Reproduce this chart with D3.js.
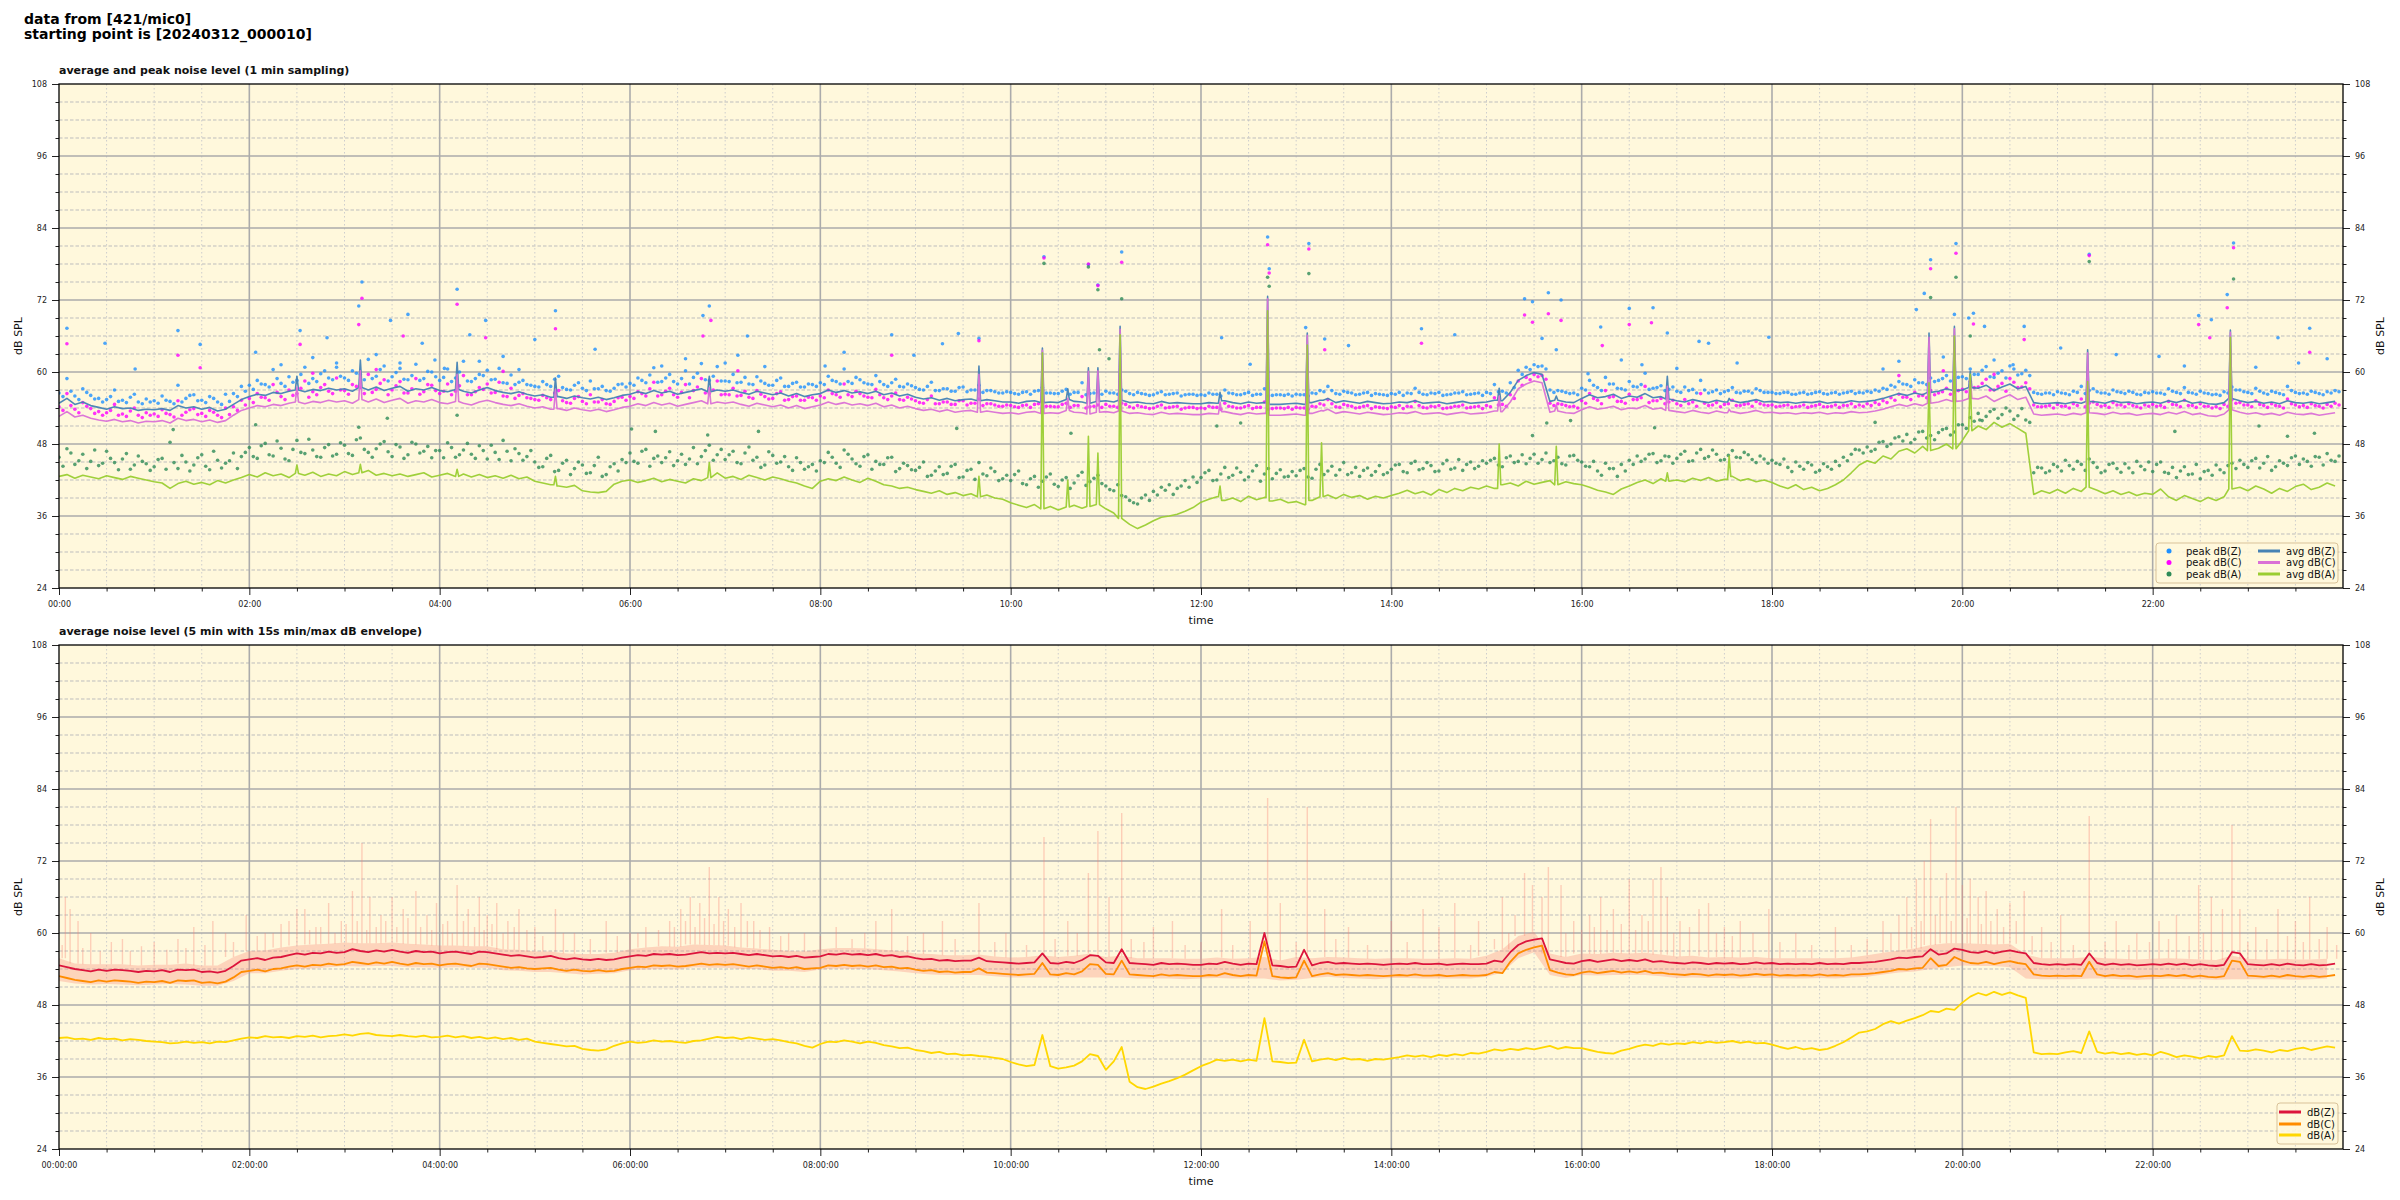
<!DOCTYPE html>
<html><head><meta charset="utf-8">
<script src="https://cdn.jsdelivr.net/npm/d3@7"></script>
<style>
body{margin:0;background:#fff}
svg{display:block}
text{font-family:"DejaVu Sans",sans-serif}
</style>
</head><body>
<svg id="c" width="2400" height="1200"></svg>
<script>
// ---------------- DATA ----------------
const tickMinutes = [0,120,240,360,480,600,720,840,960,1080,1200,1320];
const tickLabelsShort = ["00:00","02:00","04:00","06:00","08:00","10:00","12:00","14:00","16:00","18:00","20:00","22:00"];
const tickLabelsLong = ["00:00:00","02:00:00","04:00:00","06:00:00","08:00:00","10:00:00","12:00:00","14:00:00","16:00:00","18:00:00","20:00:00","22:00:00"];
const dbTicks = [24,36,48,60,72,84,96,108];

// top panel: 1-min data shown at 5-min steps (minute = index*5)
const avgZ = [
54.8,55.6,54.6,55.0,54.4,54.1,53.8,54.2,53.9,54.0,53.6,53.8,
53.7,53.9,53.6,54.4,54.0,54.2,53.8,54.1,53.5,53.8,54.6,55.4,
55.9,56.3,56.1,56.6,56.4,56.8,57.0,56.7,57.1,56.9,57.3,57.0,
57.2,56.8,57.4,57.0,57.5,56.9,57.3,57.6,56.8,57.2,57.0,57.4,
56.9,56.7,57.1,56.8,56.5,57.0,57.4,56.9,56.6,56.4,56.7,56.3,
56.0,56.2,55.8,55.9,55.6,56.0,55.7,55.5,55.8,55.4,55.7,56.1,
56.3,56.7,56.4,56.9,56.5,56.8,56.3,56.6,56.9,57.2,56.7,57.0,
56.8,57.0,56.6,56.3,56.8,56.5,56.2,56.5,56.0,56.4,55.9,56.2,
56.4,57.0,56.6,56.9,56.5,56.7,56.4,56.8,56.2,56.5,56.0,56.3,
55.8,55.5,55.7,55.3,55.6,55.2,55.4,55.5,55.2,55.4,55.2,55.0,
55.0,54.8,55.1,55.2,54.9,55.0,54.9,55.4,55.1,55.0,54.8,55.1,
55.2,55.0,55.3,54.9,55.0,54.8,54.7,55.1,54.8,54.9,54.8,54.7,
54.7,54.9,54.8,55.2,54.9,54.7,55.0,54.8,54.9,54.6,54.6,54.7,
54.8,54.6,54.9,55.3,55.6,54.9,55.2,55.0,54.8,55.1,54.9,54.7,
54.8,55.0,54.9,55.2,54.8,54.9,55.0,54.7,54.9,55.1,54.8,54.9,
55.0,55.3,55.2,56.6,58.6,59.4,59.9,59.6,55.1,55.3,55.0,54.9,
55.6,56.2,55.7,55.9,56.3,55.6,56.0,55.8,56.4,55.7,55.9,55.5,
55.2,55.0,55.4,55.1,54.9,55.3,55.0,55.2,54.9,55.1,55.4,55.0,
55.1,54.9,55.0,54.8,55.0,54.9,55.1,54.8,55.0,54.9,55.2,55.0,
55.1,55.3,55.6,56.0,56.4,56.1,56.5,56.2,56.6,56.8,57.2,56.9,
57.0,57.4,57.3,57.8,56.9,57.5,58.0,57.2,57.6,54.9,54.7,54.8,
54.9,54.7,55.0,54.8,55.1,55.0,54.8,55.2,54.9,55.0,54.7,54.9,
55.0,54.8,55.2,54.9,55.3,54.8,55.0,54.7,54.6,54.9,55.6,55.2,
54.9,55.1,54.8,55.0,54.7,55.2,54.9,54.8,55.0,54.7,54.9,55.1];
const avgC = [
52.6,53.4,52.5,52.8,52.3,52.0,51.8,52.1,51.7,51.9,51.5,51.8,
51.7,51.9,51.5,52.3,51.9,52.1,51.7,52.0,51.6,51.9,52.8,53.6,
54.0,54.4,54.2,54.6,54.4,54.8,55.0,54.7,55.1,54.9,55.3,55.0,
55.2,54.8,55.4,55.0,55.5,54.9,55.3,55.6,54.8,55.2,55.0,55.4,
54.9,54.7,55.1,54.8,54.5,55.0,55.3,54.9,54.6,54.4,54.7,54.3,
54.0,54.2,53.8,53.9,53.6,54.0,53.7,53.5,53.8,53.4,53.7,54.1,
54.3,54.7,54.4,54.9,54.5,54.8,54.3,54.6,54.9,55.2,54.7,55.0,
54.8,55.0,54.6,54.3,54.8,54.5,54.2,54.5,54.0,54.4,53.9,54.2,
54.5,55.0,54.6,54.9,54.5,54.7,54.4,54.8,54.2,54.5,54.0,54.3,
53.9,53.6,53.8,53.4,53.7,53.3,53.5,53.6,53.3,53.5,53.3,53.1,
53.2,53.0,53.3,53.4,53.1,53.2,53.1,53.6,53.3,53.2,53.0,53.3,
53.4,53.2,53.5,53.1,53.2,53.0,52.9,53.3,53.0,53.1,53.0,52.9,
52.9,53.1,53.0,53.4,53.1,52.9,53.2,53.0,53.1,52.8,52.8,52.9,
53.0,52.8,53.1,53.5,53.8,53.1,53.4,53.2,53.0,53.3,53.1,52.9,
53.0,53.2,53.1,53.4,53.0,53.1,53.2,52.9,53.1,53.3,53.0,53.1,
53.2,53.5,53.4,55.0,57.2,58.0,58.5,58.2,53.3,53.5,53.2,53.1,
53.7,54.2,53.8,54.0,54.3,53.7,54.0,53.9,54.4,53.8,54.0,53.6,
53.4,53.2,53.6,53.3,53.1,53.5,53.2,53.4,53.1,53.3,53.6,53.2,
53.3,53.1,53.2,53.0,53.2,53.1,53.3,53.0,53.2,53.1,53.4,53.2,
53.3,53.5,53.8,54.2,54.6,54.3,54.7,54.4,54.8,55.0,55.4,55.1,
55.2,55.6,55.5,56.0,55.1,55.7,56.2,55.4,55.8,53.0,52.8,52.9,
53.0,52.8,53.1,52.9,53.2,53.1,52.9,53.3,53.0,53.1,52.8,53.0,
53.1,52.9,53.3,53.0,53.4,52.9,53.1,52.7,52.6,53.0,53.7,53.3,
53.0,53.2,52.9,53.1,52.8,53.3,53.0,52.9,53.1,52.8,53.0,53.2];
const avgA = [
42.6,42.9,42.3,42.8,42.5,42.2,42.7,42.4,42.1,42.6,42.3,42.0,
41.7,41.5,40.6,41.4,41.8,41.3,41.6,41.2,41.9,41.5,42.0,42.4,
42.9,42.5,43.2,42.7,43.0,42.4,43.1,42.8,43.3,42.6,43.0,42.7,
43.4,42.9,43.2,43.6,42.8,43.1,42.7,43.0,42.6,42.9,43.2,42.5,
42.8,43.1,42.6,43.0,42.5,42.9,42.4,42.7,42.3,42.8,42.2,42.5,
41.8,41.5,41.2,41.0,40.8,41.1,40.2,40.0,39.9,40.1,41.3,41.8,
42.0,41.6,41.9,42.3,41.7,42.1,41.8,41.5,42.2,41.9,42.4,43.2,
42.3,42.6,42.1,42.8,42.4,42.0,42.5,42.2,41.8,41.5,41.0,40.6,
41.8,42.2,41.9,42.5,42.0,41.6,42.3,41.8,41.2,41.0,40.6,40.8,
40.4,40.1,39.8,40.2,39.6,39.9,39.4,39.7,39.2,39.5,39.0,38.8,
38.2,37.8,37.4,37.9,37.2,37.6,37.0,37.5,37.8,37.3,37.6,37.9,
37.2,36.5,35.6,34.6,33.9,34.5,35.2,35.8,36.0,36.3,36.8,37.4,
38.3,38.8,39.2,38.6,39.0,38.4,39.3,38.7,39.1,38.5,38.8,38.2,
38.4,37.9,38.6,39.2,39.5,38.9,39.6,39.1,39.4,38.8,39.3,39.0,
39.4,39.8,40.3,39.7,40.1,39.5,40.4,39.9,40.6,40.2,40.8,40.5,
41.0,40.6,41.2,41.5,41.0,41.8,41.3,41.6,41.9,41.2,41.7,41.4,
41.2,40.8,40.3,40.0,39.6,40.5,41.0,41.6,42.0,41.4,42.2,41.8,
42.0,41.7,42.3,41.9,42.4,41.8,42.1,42.6,41.9,42.2,41.7,42.0,
41.6,41.0,40.6,41.2,40.4,40.8,40.2,40.6,41.2,42.0,43.2,44.5,
45.2,44.8,46.0,45.5,46.8,47.2,46.5,47.6,46.9,47.3,48.0,47.2,
48.6,50.2,51.0,50.4,51.6,50.8,51.4,50.6,49.8,39.6,40.2,39.8,
40.4,39.8,40.6,40.1,40.8,40.3,39.7,40.2,39.6,40.0,39.4,39.8,
39.6,40.5,39.2,38.6,39.4,38.9,38.4,39.1,38.6,39.2,40.5,40.8,
40.2,41.0,40.5,39.8,40.6,40.1,40.9,41.3,40.4,40.8,41.5,41.0];

// short 1-minute events in the averages (minute, Z, C, A)
const spikeT = [150,190,251,313,410,580,620,636,649,655,669,732,762,787,796,908,944,1014,1053,1179,1195,1205,1279,1369];
const spikeZ = [59.3,62.0,61.6,59.0,59.3,61.0,64.0,57.2,60.7,60.7,67.6,56.6,72.6,66.5,55.3,57.3,56.0,59.3,55.6,66.5,67.6,60.1,63.7,67.0];
const spikeC = [57.5,60.2,59.6,57.1,57.4,59.6,63.6,55.6,60.1,60.2,67.1,55.0,72.2,66.1,53.6,56.0,54.5,57.6,53.8,65.8,67.2,59.2,63.2,66.6];
const spikeA = [44.5,44.6,43.8,42.6,44.9,42.6,63.2,42.0,49.3,46.5,66.2,41.0,70.2,64.5,48.2,48.0,47.6,43.2,46.0,58.2,66.0,59.6,58.4,65.8];

// peak levels, first reading of each 5-min step (minute = index*5)
const peakZ = [
56.5,58.9,56.0,57.2,56.1,55.6,55.4,57.0,55.3,55.8,55.0,55.5,
55.2,56.0,55.1,57.8,55.6,56.2,55.3,55.9,55.0,56.3,56.4,57.6,
57.8,58.6,57.9,60.4,58.1,59.2,58.6,60.8,58.9,59.7,59.0,61.5,
59.0,60.2,59.6,62.1,59.3,61.0,59.2,60.6,58.7,61.3,58.9,60.0,
58.6,60.5,59.0,61.8,58.4,59.6,60.3,58.8,58.2,59.5,58.3,57.9,
57.6,58.4,57.6,59.3,57.1,57.8,57.3,58.5,57.2,56.9,57.3,58.0,
58.1,59.0,58.2,60.7,58.4,59.6,58.0,60.2,59.1,61.4,58.6,60.9,
58.5,59.6,58.3,58.0,59.2,58.1,57.8,59.0,57.6,58.3,57.5,57.9,
58.2,59.3,58.4,60.5,58.1,58.7,58.0,59.4,57.9,58.2,57.6,58.0,
57.4,57.0,58.3,56.9,57.2,56.8,57.5,57.0,57.8,56.9,56.7,56.5,
56.6,56.3,56.7,56.8,57.4,56.5,56.4,57.1,56.6,58.2,56.4,56.7,
56.8,56.5,57.0,56.4,56.6,56.3,56.2,56.7,56.3,56.5,56.2,56.3,
56.2,56.5,56.3,57.0,56.4,56.2,56.6,56.3,57.2,56.1,56.2,56.3,
56.3,56.2,56.5,56.9,57.6,56.4,56.8,56.5,56.3,56.6,56.4,56.2,
56.4,56.6,56.5,57.3,56.3,56.5,56.6,56.2,56.5,56.7,56.3,56.5,
56.6,57.9,56.8,58.2,60.3,60.8,61.2,61.0,57.0,56.9,56.6,56.5,
57.3,58.6,57.4,59.1,58.0,57.2,58.4,57.5,59.8,57.3,57.7,57.1,
56.8,57.5,57.1,58.6,56.5,57.0,56.7,57.4,56.5,56.8,57.2,56.6,
56.6,56.4,56.6,56.3,56.6,56.4,56.7,56.3,56.6,56.5,56.8,56.6,
56.8,57.0,57.3,57.8,58.4,57.9,58.7,58.2,59.0,58.6,59.4,58.8,
59.2,60.5,59.6,60.9,59.1,60.2,61.0,59.5,60.3,56.6,56.3,56.5,
56.7,56.4,56.8,57.6,56.9,56.7,56.5,57.0,56.6,56.8,56.3,56.6,
56.7,56.5,57.2,56.6,57.4,56.5,56.8,56.4,56.3,56.7,57.5,57.0,
56.6,57.3,56.5,56.8,56.4,57.6,56.6,56.5,56.8,56.4,56.7,56.9];
const peakC = [
54.2,56.4,53.8,54.9,53.9,53.4,53.2,54.6,53.0,53.5,52.8,53.2,
53.0,53.7,52.9,55.2,53.3,53.9,53.1,53.6,52.8,54.0,54.2,55.3,
55.6,56.4,55.7,57.9,55.9,57.0,56.4,58.5,56.7,57.4,56.8,59.0,
56.9,57.9,57.4,59.6,57.1,58.7,57.0,58.4,56.5,58.9,56.7,57.8,
56.4,58.0,56.8,59.4,56.2,57.4,58.0,56.6,56.0,57.3,56.1,55.7,
55.4,56.1,55.4,56.9,54.9,55.6,55.1,56.2,55.0,54.7,55.1,55.8,
55.9,56.7,56.0,58.3,56.2,57.3,55.8,57.9,56.9,58.9,56.4,58.5,
56.3,57.3,56.1,55.8,56.9,55.9,55.6,56.7,55.4,56.0,55.3,55.7,
56.0,57.0,56.2,58.0,55.9,56.4,55.8,57.1,55.7,56.0,55.4,55.8,
55.2,54.8,56.0,54.7,55.0,54.6,55.2,54.8,55.5,54.7,54.5,54.3,
54.4,54.1,54.5,54.6,55.1,54.3,54.2,54.8,54.4,55.9,54.2,54.5,
54.6,54.3,54.8,54.2,54.4,54.1,54.0,54.5,54.1,54.3,54.0,54.1,
54.0,54.3,54.1,54.8,54.2,54.0,54.4,54.1,55.0,53.9,54.0,54.1,
54.1,54.0,54.3,54.7,55.4,54.2,54.6,54.3,54.1,54.4,54.2,54.0,
54.2,54.4,54.3,55.1,54.1,54.3,54.4,54.0,54.3,54.5,54.1,54.3,
54.4,55.7,54.6,56.2,58.5,59.1,59.6,59.4,54.8,54.7,54.4,54.3,
55.2,56.4,55.3,56.9,55.9,55.1,56.3,55.4,57.6,55.2,55.6,55.0,
54.7,55.4,55.0,56.4,54.4,54.9,54.6,55.3,54.4,54.7,55.1,54.5,
54.5,54.3,54.5,54.2,54.5,54.3,54.6,54.2,54.5,54.4,54.7,54.5,
54.7,54.9,55.2,55.7,56.3,55.8,56.6,56.1,56.9,56.5,57.3,56.7,
57.1,58.4,57.5,58.8,57.0,58.1,58.9,57.4,58.2,54.5,54.2,54.4,
54.6,54.3,54.7,55.5,54.8,54.6,54.4,54.9,54.5,54.7,54.2,54.5,
54.6,54.4,55.1,54.5,55.3,54.4,54.7,54.3,54.2,54.6,55.4,54.9,
54.5,55.2,54.4,54.7,54.3,55.5,54.5,54.4,54.7,54.3,54.6,54.8];
const peakA = [
45.8,47.2,44.6,46.3,45.1,44.4,46.8,44.9,45.5,43.8,46.0,44.7,
44.2,45.6,48.3,43.9,45.0,44.5,46.2,43.7,45.3,44.8,46.5,45.9,
47.4,45.6,48.1,46.0,47.3,45.2,48.6,46.4,47.0,45.8,47.9,46.3,
47.8,46.1,49.0,46.6,47.2,48.4,45.9,47.5,46.2,48.0,46.8,45.7,
46.9,48.2,45.8,47.0,46.3,47.7,45.5,46.6,48.6,45.2,46.4,45.9,
45.0,44.2,46.1,43.6,45.3,43.9,44.5,43.2,45.8,42.9,44.7,45.4,
46.5,44.8,47.1,45.6,44.9,46.7,45.2,44.6,47.4,45.9,47.8,46.2,
45.4,46.8,44.7,47.5,45.8,44.5,46.1,45.0,44.2,45.7,43.8,44.6,
45.2,46.6,44.8,47.0,45.5,44.3,46.2,45.1,44.6,45.8,43.9,44.4,
43.6,45.0,42.8,44.2,43.1,44.6,42.5,43.8,44.9,42.7,43.4,42.2,
41.9,43.5,41.2,42.6,41.8,43.0,40.9,42.4,41.5,43.3,41.7,42.8,
41.0,40.2,39.4,38.6,38.0,39.5,40.1,40.8,41.2,40.6,41.9,42.5,
42.4,43.6,42.0,44.1,42.8,43.3,42.5,44.4,43.0,42.2,43.7,42.6,
42.7,43.9,42.3,44.6,43.5,42.8,44.9,43.2,42.6,44.0,43.4,42.9,
43.8,44.6,43.2,45.1,43.9,44.4,43.5,45.3,44.0,43.6,45.0,44.3,
44.8,45.6,44.2,46.0,45.1,44.7,46.3,45.4,44.9,45.8,44.5,46.1,
45.0,44.2,43.5,44.8,43.9,44.6,45.3,46.0,45.5,46.4,45.2,45.9,
45.6,46.8,45.2,47.1,45.9,46.3,45.4,46.9,45.7,46.2,44.9,45.5,
45.3,44.6,44.1,45.0,43.8,44.5,43.6,44.2,45.1,45.8,46.3,47.0,
47.5,47.1,48.4,48.0,49.2,49.6,48.8,50.1,49.4,49.9,50.6,50.0,
51.2,52.4,53.1,52.6,53.8,52.9,53.5,52.7,52.0,43.2,44.0,43.5,
44.2,45.3,43.8,44.6,45.5,44.1,43.5,44.8,43.3,44.0,45.1,43.7,
43.4,45.0,43.1,42.4,44.2,43.0,42.2,43.6,44.5,43.2,44.8,45.3,
44.1,45.6,44.8,43.6,45.2,44.4,46.0,45.5,44.3,45.8,46.4,45.1];
// peak levels, second reading of each 5-min step (minute = index*5 + 2.5)
const peakZ2 = [
55.9,56.8,55.4,56.6,55.5,55.0,55.9,55.1,54.9,56.3,54.7,55.0,
54.8,55.3,54.7,55.0,56.1,55.2,54.9,55.6,54.6,55.1,55.9,56.8,
57.1,58.0,57.5,58.9,57.6,58.3,59.6,58.1,58.4,60.2,58.7,59.3,
58.6,59.8,58.7,58.9,60.4,58.5,59.9,58.8,59.4,58.6,60.1,59.2,
59.1,58.4,60.0,58.5,58.9,59.4,58.7,60.6,58.1,57.9,58.6,57.8,
57.5,57.9,58.8,57.4,57.0,58.2,56.9,57.2,57.6,56.8,57.9,57.5,
57.8,58.6,59.5,58.3,59.0,58.4,58.9,58.0,59.8,58.7,59.3,58.5,
58.4,58.2,59.1,57.9,58.5,57.8,58.6,57.6,58.1,57.5,58.0,57.6,
57.9,58.6,58.0,58.4,59.1,58.2,57.9,58.4,57.6,58.8,57.5,57.7,
57.1,57.6,56.9,57.2,56.8,57.4,56.7,57.0,56.6,56.9,56.5,56.7,
56.4,56.6,56.3,56.9,56.5,56.4,56.8,56.3,56.6,56.2,56.5,56.3,
56.5,56.3,56.8,56.2,56.4,56.1,56.5,56.2,56.4,56.0,56.3,56.1,
56.1,56.3,56.0,56.5,56.2,56.4,56.1,56.3,56.0,56.2,56.1,56.0,
56.2,56.0,56.4,56.7,56.9,56.3,56.6,56.2,56.5,56.1,56.3,56.1,
56.3,56.1,56.4,56.6,56.2,56.4,56.1,56.3,56.5,56.2,56.4,56.1,
56.4,56.7,56.5,57.4,59.6,60.4,60.9,60.5,56.6,56.8,56.4,56.2,
57.0,57.8,56.9,58.0,57.3,57.0,57.6,57.9,57.1,57.4,56.9,57.5,
56.6,56.9,56.5,57.0,56.7,56.4,56.9,56.6,56.8,56.5,56.9,56.6,
56.4,56.6,56.3,56.5,56.3,56.6,56.4,56.5,56.3,56.6,56.4,56.5,
56.6,56.8,57.1,57.5,58.0,57.6,58.2,57.9,58.4,58.9,58.5,59.1,
58.9,59.6,60.3,59.2,59.8,59.0,60.5,59.7,59.4,56.4,56.5,56.2,
56.5,56.2,56.6,56.4,57.2,56.5,56.3,56.7,56.4,56.6,56.2,56.5,
56.5,56.3,56.8,56.4,56.6,56.3,56.5,56.2,56.1,56.5,57.0,56.7,
56.4,56.8,56.3,56.6,56.2,56.9,56.4,56.3,56.6,56.2,56.5,56.7];
const peakC2 = [
53.6,54.4,53.2,54.3,53.1,52.8,53.6,52.8,52.6,54.0,52.4,52.8,
52.6,53.1,52.5,52.8,53.7,52.9,52.6,53.3,52.4,52.9,53.6,54.5,
54.9,55.8,55.3,56.6,55.4,56.1,57.3,55.8,56.2,57.9,56.4,57.0,
56.3,57.6,56.4,56.6,58.1,56.2,57.7,56.5,57.2,56.3,57.9,56.9,
56.8,56.2,57.7,56.2,56.7,57.1,56.5,58.3,55.9,55.6,56.4,55.6,
55.3,55.7,56.5,55.2,54.8,55.9,54.7,55.0,55.4,54.6,55.7,55.3,
55.6,56.4,57.2,56.0,56.8,56.2,56.6,55.7,57.5,56.5,57.0,56.2,
56.2,56.0,56.8,55.6,56.3,55.5,56.4,55.3,55.9,55.3,55.8,55.3,
55.7,56.4,55.8,56.2,56.8,56.0,55.7,56.2,55.4,56.5,55.3,55.5,
54.9,55.4,54.7,55.0,54.6,55.2,54.5,54.8,54.4,54.7,54.3,54.5,
54.2,54.4,54.1,54.7,54.3,54.2,54.6,54.1,54.4,54.0,54.3,54.1,
54.3,54.1,54.6,54.0,54.2,53.9,54.3,54.0,54.2,53.8,54.1,53.9,
53.9,54.1,53.8,54.3,54.0,54.2,53.9,54.1,53.8,54.0,53.9,53.8,
54.0,53.8,54.2,54.5,54.7,54.1,54.4,54.0,54.3,53.9,54.1,53.9,
54.1,53.9,54.2,54.4,54.0,54.2,53.9,54.1,54.3,54.0,54.2,53.9,
54.2,54.5,54.3,55.6,57.8,58.7,59.2,58.8,54.4,54.6,54.2,54.0,
54.8,55.6,54.7,55.8,55.1,54.8,55.4,55.7,54.9,55.2,54.7,55.3,
54.4,54.7,54.3,54.8,54.5,54.2,54.7,54.4,54.6,54.3,54.7,54.4,
54.2,54.4,54.1,54.3,54.1,54.4,54.2,54.3,54.1,54.4,54.2,54.3,
54.4,54.6,54.9,55.3,55.8,55.4,56.0,55.7,56.2,56.7,56.3,56.9,
56.7,57.4,58.1,57.0,57.6,56.8,58.3,57.5,57.2,54.2,54.3,54.0,
54.3,54.0,54.4,54.2,55.0,54.3,54.1,54.5,54.2,54.4,54.0,54.3,
54.3,54.1,54.6,54.2,54.4,54.1,54.3,54.0,53.9,54.3,54.8,54.5,
54.2,54.6,54.1,54.4,54.0,54.7,54.2,54.1,54.4,54.0,54.3,54.5];
const peakA2 = [
44.3,46.5,45.2,43.9,47.0,44.8,45.6,43.7,46.4,44.5,45.1,43.6,
45.4,43.8,44.9,46.1,43.5,45.7,44.3,46.8,44.0,45.2,43.9,46.6,
45.9,47.7,46.2,48.5,45.5,47.1,46.6,48.8,45.9,47.4,46.0,48.2,
46.4,48.7,47.1,45.8,48.0,46.7,47.9,45.6,48.3,46.5,47.6,46.9,
45.7,47.4,46.2,48.1,45.6,46.9,47.8,45.4,46.8,47.2,45.3,46.9,
44.1,45.6,43.4,44.8,42.9,45.0,43.1,44.4,42.6,44.2,43.5,44.9,
45.1,46.8,44.3,46.0,45.7,44.4,46.3,45.5,44.7,46.9,45.3,47.1,
46.2,44.9,46.5,45.3,44.1,46.7,44.8,45.9,43.6,44.9,44.2,43.5,
44.9,45.8,44.1,46.3,44.7,45.9,43.8,44.6,45.7,43.4,44.8,43.7,
44.1,42.6,43.5,42.9,44.3,42.4,43.6,42.1,43.0,44.0,41.9,42.8,
42.9,41.4,42.2,40.8,42.5,41.3,42.0,40.6,42.7,41.1,42.3,41.4,
40.4,41.2,39.2,38.2,39.0,38.6,39.5,40.3,39.6,41.0,40.8,41.6,
43.2,41.9,43.0,42.4,44.0,42.0,43.5,41.8,43.9,43.1,42.5,43.4,
43.6,42.5,43.8,42.9,44.3,43.7,42.9,44.1,43.6,42.8,44.4,43.2,
44.5,43.4,44.8,43.7,44.9,43.4,44.7,43.8,45.4,44.6,43.9,45.2,
45.3,44.5,45.7,44.9,46.2,45.6,44.8,46.5,45.2,44.7,46.0,45.3,
44.3,45.1,42.8,43.9,42.6,43.5,44.6,45.1,46.3,44.9,46.0,44.8,
46.3,45.1,46.5,45.6,47.0,45.3,46.1,45.8,46.6,45.4,46.0,44.8,
44.8,45.5,43.4,44.3,44.9,43.3,44.7,43.8,44.4,45.2,47.1,46.5,
46.8,48.3,47.6,49.0,48.5,48.2,50.0,49.0,48.7,50.4,49.5,51.2,
50.6,51.8,51.9,53.4,52.3,54.0,52.1,53.9,51.6,44.1,43.2,44.6,
43.5,44.4,45.1,43.6,44.9,43.2,44.6,43.9,44.7,43.2,44.3,45.0,
44.6,43.3,44.1,43.5,42.9,44.6,43.4,42.8,43.7,44.4,43.9,44.6,
45.2,44.0,45.9,44.2,44.8,45.7,44.6,45.1,45.9,44.5,45.3,46.0];

// isolated high peak readings [minute, dB]
const peakZExtra = [[5,67.3],[29,64.8],[48,60.5],[75,66.9],[89,64.6],[124,63.3],[140,61.2],[152,66.9],[160,62.4],[169,65.7],[175,60.8],[189,71.0],[191,75.0],[200,62.9],[209,68.6],[215,61.5],[220,69.6],[229,64.8],[237,62.0],[243,60.6],[251,73.8],[259,66.2],[265,61.8],[269,68.6],[280,62.6],[290,60.4],[300,65.4],[313,70.2],[338,63.8],[380,61.0],[395,62.2],[406,69.4],[410,71.0],[420,61.5],[428,62.8],[434,66.0],[445,60.9],
[483,61.0],[495,63.3],[525,66.2],[539,62.8],[557,64.7],[567,66.4],[580,65.6],[621,79.2],[649,77.9],[655,74.5],[670,80.0],[733,65.7],[751,61.3],[762,82.5],[763,77.2],[786,67.4],[788,81.4],[798,65.5],[813,64.4],[859,67.2],[880,66.2],[924,72.2],[929,71.7],[935,65.6],[939,73.2],[944,63.7],[947,72.0],
[964,59.7],[972,67.5],[985,62.0],[990,70.6],[998,61.2],[1005,70.7],[1014,66.5],[1020,60.6],[1034,65.1],[1040,64.8],[1058,61.5],[1078,65.8],[1150,60.5],[1160,61.8],[1171,70.4],[1176,73.1],[1180,78.7],[1188,62.5],[1195,69.6],[1196,81.4],[1204,69.0],[1207,69.8],[1214,67.6],[1220,62.0],[1232,61.2],[1239,67.6],[1262,64.0],[1280,79.6],[1297,62.9],[1324,62.6],[1340,61.0],[1349,69.4],[1357,68.7],[1367,72.9],[1371,81.5],[1385,60.8],[1399,65.7],[1412,61.5],[1419,67.3],[1430,62.2]];
const peakCExtra = [[5,64.7],[75,62.8],[89,60.7],[152,64.6],[160,59.8],[189,67.9],[191,72.3],[200,60.4],[217,66.0],[251,71.3],[269,65.7],[280,60.1],[313,67.2],[406,66.0],[411,68.6],[428,60.2],
[525,62.8],[580,65.2],[621,79.0],[649,78.0],[655,74.4],[670,78.3],[762,81.2],[763,76.5],[788,80.5],[798,63.7],[859,64.8],[924,69.5],[929,68.3],[939,69.7],[947,68.6],
[973,64.4],[990,67.9],[1004,68.2],[1160,59.4],[1180,77.2],[1188,60.2],[1196,79.8],[1207,68.0],[1220,59.6],[1239,65.4],[1280,79.4],[1349,67.9],[1356,65.7],[1367,70.7],[1371,80.7],[1419,63.3]];
const peakAExtra = [[72,50.4],[124,51.2],[189,50.8],[207,52.3],[251,52.8],[361,50.5],[376,50.1],[409,49.5],[441,50.1],
[566,50.6],[621,78.1],[638,49.8],[649,77.5],[655,73.7],[656,63.7],[662,62.2],[670,72.2],[730,51.0],[745,51.5],[762,75.8],[763,74.3],[788,76.4],[929,49.4],[938,51.5],[953,51.9],
[1006,50.7],[1145,51.6],[1180,72.4],[1196,75.8],[1205,66.0],[1211,52.0],[1280,78.4],[1334,50.1],[1371,75.5],[1387,51.0],[1405,49.3],[1422,49.8]];

// bottom panel: 5-min averages (minute = index*5)
const avg5Z = [
54.6,54.3,54.0,53.8,53.6,53.9,53.7,53.9,53.8,53.7,53.5,53.7,
53.6,53.8,53.5,53.9,53.8,53.9,53.5,53.6,53.4,53.7,54.5,55.4,
55.6,55.8,55.5,55.9,56.0,56.3,56.6,56.4,56.7,56.6,56.9,56.7,
56.8,57.3,57.0,56.8,57.1,56.9,57.2,56.9,56.7,57.0,56.8,56.9,
56.6,56.8,56.9,56.7,56.5,56.9,56.8,56.6,56.4,56.2,56.3,56.1,
55.9,56.0,56.2,55.8,55.6,55.8,55.6,55.5,55.7,55.5,55.6,55.9,
56.1,56.3,56.2,56.5,56.4,56.5,56.3,56.4,56.6,56.8,56.6,56.7,
56.6,56.7,56.5,56.3,56.5,56.3,56.1,56.2,56.0,56.2,55.9,56.0,
56.1,56.5,56.4,56.6,56.4,56.5,56.3,56.5,56.2,56.3,56.0,56.1,
55.8,55.6,55.7,55.4,55.5,55.3,55.4,55.4,55.9,55.3,55.2,55.1,
55.0,54.9,55.0,55.1,56.6,55.0,54.9,55.2,55.0,55.5,56.3,56.2,
55.1,55.0,57.3,55.0,54.9,54.8,54.7,55.0,54.8,54.9,54.8,54.7,
54.7,54.9,54.8,55.2,54.9,54.7,54.9,54.8,60.0,54.6,54.5,54.3,
54.4,57.2,54.6,55.0,55.2,54.9,55.0,54.9,54.8,54.9,54.8,54.7,
54.8,54.9,54.8,55.0,54.8,54.8,54.9,54.7,54.8,54.9,54.8,54.8,
54.9,55.4,55.2,56.8,58.0,58.6,58.9,59.1,55.6,55.3,55.0,54.9,
55.3,55.5,55.2,55.4,55.6,55.3,55.5,55.3,55.6,55.2,55.3,55.1,
55.0,54.9,55.1,55.0,54.8,55.0,54.9,55.0,54.8,54.9,55.1,54.9,
55.0,54.8,54.9,54.8,54.9,54.8,55.0,54.8,54.9,54.8,55.0,55.0,
55.1,55.2,55.4,55.6,55.9,55.8,56.0,56.1,57.3,56.4,56.6,57.4,
57.2,56.8,56.7,57.0,56.6,56.9,57.1,56.8,56.6,55.0,54.8,54.7,
54.8,54.7,54.8,54.7,56.6,55.0,54.7,54.9,54.7,54.8,54.6,54.7,
54.8,54.7,54.9,54.7,54.9,54.6,54.8,54.6,54.5,54.7,56.8,56.6,
54.8,54.7,54.6,54.8,54.6,54.9,54.7,54.6,54.8,54.6,54.7,54.9];
const avg5C = [
52.8,52.5,52.2,52.0,51.8,52.1,51.9,52.1,52.0,51.9,51.7,51.9,
51.8,52.0,51.7,52.1,52.0,52.1,51.7,51.8,51.6,51.9,52.6,53.5,
53.7,53.9,53.6,54.0,54.1,54.4,54.6,54.4,54.7,54.6,54.9,54.7,
54.8,55.2,55.0,54.8,55.1,54.9,55.2,54.9,54.7,55.0,54.8,54.9,
54.6,54.8,54.9,54.7,54.5,54.9,54.8,54.6,54.4,54.2,54.3,54.1,
54.0,54.1,54.2,53.9,53.7,53.9,53.7,53.6,53.8,53.6,53.7,54.0,
54.2,54.4,54.3,54.6,54.5,54.6,54.4,54.5,54.7,54.9,54.7,54.8,
54.7,54.8,54.6,54.4,54.6,54.4,54.2,54.3,54.1,54.3,54.0,54.1,
54.2,54.6,54.5,54.7,54.5,54.6,54.4,54.6,54.3,54.4,54.1,54.2,
53.9,53.7,53.8,53.5,53.6,53.4,53.5,53.5,54.1,53.4,53.3,53.2,
53.1,53.0,53.1,53.2,55.0,53.1,53.0,53.3,53.1,53.6,54.8,54.7,
53.2,53.1,55.4,53.1,53.0,52.9,52.8,53.1,52.9,53.0,52.9,52.8,
52.8,53.0,52.9,53.3,53.0,52.8,53.0,52.9,58.6,52.8,52.6,52.5,
52.6,55.4,52.8,53.1,53.3,53.0,53.1,53.0,52.9,53.0,52.9,52.8,
52.9,53.0,52.9,53.1,52.9,52.9,53.0,52.8,52.9,53.0,52.9,52.9,
53.0,53.5,53.3,55.2,56.6,57.2,57.6,57.9,53.8,53.4,53.1,53.0,
53.4,53.6,53.3,53.5,53.7,53.4,53.6,53.4,53.7,53.3,53.4,53.2,
53.1,53.0,53.2,53.1,52.9,53.1,53.0,53.1,52.9,53.0,53.2,53.0,
53.1,52.9,53.0,52.9,53.0,52.9,53.1,52.9,53.0,52.9,53.1,53.1,
53.2,53.3,53.5,53.7,54.0,53.9,54.1,54.2,55.8,54.5,54.7,56.0,
55.4,55.0,54.9,55.2,54.8,55.1,55.3,55.0,54.8,53.1,52.9,52.8,
52.9,52.8,52.9,52.8,55.2,53.1,52.8,53.0,52.8,52.9,52.7,52.8,
52.9,52.8,53.0,52.8,53.0,52.7,52.9,52.7,52.6,52.8,55.4,55.2,
52.9,52.8,52.7,52.9,52.7,53.0,52.8,52.7,52.9,52.7,52.8,53.0];
const avg5A = [
42.5,42.6,42.3,42.4,42.2,42.5,42.3,42.4,42.1,42.3,42.2,42.0,
41.9,41.8,41.6,41.7,41.9,41.7,41.8,41.6,41.9,41.8,42.1,42.4,
42.6,42.5,42.8,42.6,42.7,42.5,42.8,42.7,42.9,42.6,42.8,42.9,
43.1,42.9,43.2,43.3,43.0,42.9,42.8,43.0,42.8,42.7,42.9,42.6,
42.7,42.9,42.6,42.8,42.5,42.7,42.4,42.6,42.3,42.5,42.2,42.4,
41.9,41.7,41.5,41.3,41.1,41.2,40.7,40.5,40.4,40.6,41.2,41.6,
41.9,41.7,41.8,42.1,41.9,42.0,41.8,41.7,42.0,42.1,42.4,42.7,
42.5,42.6,42.3,42.6,42.4,42.2,42.3,42.1,41.8,41.6,41.2,40.9,
41.5,41.9,41.8,42.1,41.9,41.6,41.9,41.7,41.3,41.1,40.8,40.9,
40.5,40.3,40.0,40.2,39.8,39.9,39.6,39.7,39.5,39.4,39.2,39.0,
38.5,38.1,37.8,38.0,43.0,37.8,37.4,37.6,37.9,38.6,39.8,39.5,
37.2,38.6,41.0,35.2,34.3,34.0,34.4,34.9,35.3,35.8,36.4,37.1,
37.8,38.3,38.9,38.7,38.9,38.6,38.9,38.7,45.8,38.6,38.5,38.3,
38.4,42.2,38.6,38.9,39.1,38.8,39.2,38.9,39.0,38.7,39.0,38.9,
39.1,39.3,39.6,39.4,39.6,39.3,39.7,39.5,39.8,39.6,40.0,39.9,
40.2,40.6,40.4,40.7,40.5,40.8,40.6,40.9,41.2,40.7,41.0,40.8,
40.8,40.5,40.2,40.0,39.9,40.4,40.7,41.1,41.4,41.2,41.6,41.4,
41.6,41.5,41.8,41.6,41.9,41.7,41.8,42.0,41.7,41.9,41.6,41.7,
41.4,41.0,40.7,41.0,40.6,40.8,40.5,40.7,41.2,41.8,42.6,43.4,
43.6,44.0,44.8,45.3,44.9,45.4,45.8,46.3,47.0,46.8,47.4,47.2,
48.4,49.4,50.0,49.6,50.2,49.7,50.1,49.6,49.2,40.1,39.8,39.9,
39.8,40.1,40.3,40.0,43.6,40.2,39.9,40.1,39.8,40.0,39.7,39.9,
39.6,40.2,39.8,39.3,39.6,39.4,39.1,39.5,39.3,39.6,42.8,40.4,
40.3,40.6,40.4,40.1,40.5,40.3,40.7,40.9,40.5,40.8,41.1,40.9];

// 15 s min / max envelope of dB(Z), every 10 min (minute = index*10)
const envLo = [
52.0,51.6,51.4,51.5,51.4,51.3, 51.4,51.5,51.4,51.2,51.2,52.0,
53.3,53.3,53.7,54.0,54.1,54.3, 54.5,54.4,54.5,54.5,54.3,54.3,
54.2,54.3,54.2,54.2,53.8,53.7, 53.5,53.5,53.3,53.1,53.2,53.3,
53.8,53.9,54.0,53.9,54.3,54.2, 54.2,54.0,54.0,53.7,53.7,53.5,
53.9,54.1,54.0,54.0,53.8,53.6, 53.3,53.1,53.0,53.0,53.0,52.8,
52.6,52.6,52.6,52.6,52.6,52.6, 52.6,52.6,52.4,52.4,52.4,52.3,
52.4,52.5,52.4,52.4,52.4,52.1, 52.2,52.5,52.7,52.5,52.4,52.3,
52.5,52.5,52.4,52.4,52.4,52.4, 52.7,53.4,55.8,56.8,53.0,52.5,
53.0,52.9,53.0,53.0,53.0,52.8, 52.5,52.6,52.5,52.5,52.4,52.6,
52.5,52.4,52.4,52.5,52.4,52.6, 52.7,53.1,53.4,53.6,54.0,54.3,
54.6,54.5,54.5,54.3,52.4,52.3, 52.3,52.3,52.4,52.4,52.3,52.2,
52.3,52.4,52.3,52.3,52.2,52.3, 52.3,52.3,52.3,52.2,52.3,52.4];
const envHi = [
55.8,54.9,54.8,54.8,54.8,54.6, 54.7,54.7,54.9,54.6,54.6,56.0,
57.0,57.1,57.6,57.9,58.1,58.2, 58.4,58.3,58.3,58.4,58.2,58.1,
57.9,57.9,57.8,57.8,57.3,57.2, 56.9,56.9,56.6,56.5,56.5,56.7,
57.3,57.6,57.8,57.7,58.1,58.0, 57.9,57.6,57.4,57.2,57.0,56.9,
57.3,57.5,57.5,57.4,57.2,57.0, 56.6,56.5,56.3,56.3,56.4,56.1,
55.9,56.0,56.3,56.0,56.2,56.6, 56.0,56.2,55.8,55.8,55.8,55.7,
55.7,55.9,55.7,55.8,56.0,55.4, 56.0,55.8,56.0,55.9,55.8,55.7,
55.8,55.8,55.7,55.7,55.8,55.7, 56.2,57.3,59.5,60.2,56.6,56.0,
56.6,56.5,56.7,56.6,56.7,56.4, 56.1,56.2,55.9,56.0,55.9,56.0,
55.8,55.8,55.8,55.8,55.8,55.9, 56.3,56.7,57.1,57.4,58.0,58.3,
58.3,58.2,58.1,58.2,56.4,55.8, 55.8,55.8,56.0,55.8,55.7,55.6,
55.7,55.8,55.7,55.6,55.5,56.2, 55.7,55.6,55.7,55.6,55.6,55.7];
// short 15 s maxima reaching above the envelope [minute, dB]
const envSpikes = [[4,66],[7,64],[12,62],[20,60],[40,59],[60,58.5],[85,61],[97,62],[105,60],[118,63],[130,60],[140,61.5],[145,62],[150,64],[155,64],[162,61],[170,65],[178,62],[185,67],[191,75],[196,66],[203,63],[210,66],[217,64],[225,67],[232,63],[238,65],[245,62],[251,68],[258,64],[265,66],[270,63],[276,65],[283,62],[290,64],[300,61],[313,64],[325,60],[345,62],[360,60],[370,61],[385,62],[392,64],[398,66],[404,65],[410,71],[416,66],[422,64],[430,65],[438,62],[448,61],[460,60],[490,61],[515,62],[525,64],[557,62],[580,65],[597,60],[621,76],[636,62],[649,70],[655,77],[662,66],[670,80],[690,61],[702,62],[733,64],[751,62],[762,82.5],[770,65],[787,81],[798,64],[813,61],[840,62],[860,64],[870,61],[880,65],[895,62],[910,66],[918,63],[924,70],[929,68],[935,66],[939,71],[947,68],[955,62],[965,63],[972,66],[980,64],[990,69],[998,63],[1005,69],[1010,71],[1014,66],[1022,62],[1034,64],[1040,65],[1050,61],[1060,62],[1078,64],[1095,60],[1120,61],[1150,62],[1160,63],[1165,66],[1171,69],[1176,72],[1180,79],[1186,66],[1190,70],[1196,81],[1200,68],[1205,69],[1210,66],[1215,67],[1222,64],[1230,65],[1239,67],[1250,61],[1262,63],[1280,79.5],[1297,62],[1310,60],[1324,62],[1335,63],[1349,68],[1357,66],[1364,64],[1370,78],[1375,64],[1385,61],[1399,64],[1410,62],[1419,66],[1430,61],
[2,58],[15,57.5],[26,57],[33,58.5],[45,57],[52,57.8],[68,57.2],[75,59],[80,57.5],[92,58],[110,58.5],[125,59.5],[135,60],[158,60.5],[165,61],[174,60],[181,61.5],[188,62],[194,60.5],[200,61],[206,62],[213,61],[220,62.5],[228,61],[235,60.5],[242,61.5],[248,60],[255,62],[262,61],[268,60.5],[273,61.5],[280,60],[287,61],[295,60.5],[305,59.5],[318,60],[335,59],[352,59.5],[365,60],[378,60.5],[388,61],[395,62],[401,61],[407,62.5],[413,61.5],[419,62],[426,61],[434,62],[442,60.5],[455,59.5],[470,60],[480,59.5],[500,59],[508,60],[535,59.5],[545,60],[565,59],[590,58.5],[610,58],[628,59],[642,60],[676,59],[684,58.5],[710,58],[720,58.5],[740,58],[780,58.5],[805,59],[825,58],[850,58.5],[890,58],[905,59],[914,60],[950,60],[960,60.5],[968,61],[976,60.5],[985,61.5],[994,60.5],[1002,62],[1018,60],[1028,61],[1045,60],[1055,59.5],[1068,60],[1085,58.5],[1105,58],[1130,58],[1140,59],[1155,60],[1168,61],[1174,62],[1183,63],[1193,62],[1203,62.5],[1212,61.5],[1218,62],[1226,61],[1234,62],[1244,59.5],[1256,58.5],[1270,58],[1290,58.5],[1305,58],[1318,58.5],[1330,59],[1343,59.5],[1352,60],[1380,58.5],[1392,59],[1405,59.5],[1415,58.5],[1425,59],[1436,58]];

// ---------------- DRAWING ----------------
const svg = d3.select("#c");
svg.append("rect").attr("width",2400).attr("height",1200).attr("fill","#fff");
const X0 = 59, X1 = 2343;
const x = d3.scaleLinear().domain([0,1440]).range([X0,X1]);
const P1 = {top:84, bottom:588}, P2 = {top:645, bottom:1149};
const BG = "#FFF8DC";

function panel(P, title, id){
  const y = d3.scaleLinear().domain([24,108]).range([P.bottom,P.top]);
  const g = svg.append("g");
  g.append("rect").attr("x",X0).attr("y",P.top).attr("width",X1-X0).attr("height",P.bottom-P.top).attr("fill",BG);
  const minorDb = d3.range(27,108,3).filter(v=>v%12!==0);
  const majorDb = d3.range(36,108,12);
  const minorT = d3.range(30,1440,30).filter(t=>t%120!==0);
  const majorT = d3.range(120,1440,120);
  g.selectAll(null).data(minorT).enter().append("line")
    .attr("x1",d=>x(d)).attr("x2",d=>x(d)).attr("y1",P.top).attr("y2",P.bottom)
    .attr("stroke","#cdcdcd").attr("stroke-width",1).attr("stroke-dasharray","1.5,2.5");
  g.selectAll(null).data(minorDb).enter().append("line")
    .attr("x1",X0).attr("x2",X1).attr("y1",d=>y(d)).attr("y2",d=>y(d))
    .attr("stroke","#bdbdbd").attr("stroke-width",1).attr("stroke-dasharray","3.5,2");
  g.selectAll(null).data(majorT).enter().append("line")
    .attr("x1",d=>x(d)).attr("x2",d=>x(d)).attr("y1",P.top).attr("y2",P.bottom)
    .attr("stroke","#ababab").attr("stroke-width",1.6);
  g.selectAll(null).data(majorDb).enter().append("line")
    .attr("x1",X0).attr("x2",X1).attr("y1",d=>y(d)).attr("y2",d=>y(d))
    .attr("stroke","#ababab").attr("stroke-width",1.6);
  svg.append("clipPath").attr("id",id).append("rect")
    .attr("x",X0).attr("y",P.top).attr("width",X1-X0).attr("height",P.bottom-P.top);
  const data = svg.append("g").attr("clip-path",`url(#${id})`);
  const ax = svg.append("g");
  svg.append("text").attr("x",X0).attr("y",P.top-10).attr("font-size",11).attr("font-weight","bold").attr("fill","#111").text(title);
  return {y, data, ax, minorDb, minorT};
}

function axes(p, P, labels){
  const styleAx = s => { s.select(".domain").remove(); s.selectAll("text").attr("font-size",8).attr("fill","#222").attr("font-family","DejaVu Sans"); s.selectAll("line").attr("stroke","#222"); };
  p.ax.append("g").attr("transform",`translate(0,${P.bottom})`)
    .call(d3.axisBottom(x).tickValues(tickMinutes).tickFormat((d,i)=>labels[i]).tickSize(7).tickPadding(6)).call(styleAx);
  p.ax.append("g").attr("transform",`translate(0,${P.bottom})`)
    .call(d3.axisBottom(x).tickValues(p.minorT).tickFormat("").tickSize(3.5)).call(styleAx);
  p.ax.append("g").attr("transform",`translate(${X0},0)`)
    .call(d3.axisLeft(p.y).tickValues(dbTicks).tickSize(7).tickPadding(5)).call(styleAx);
  p.ax.append("g").attr("transform",`translate(${X0},0)`)
    .call(d3.axisLeft(p.y).tickValues(p.minorDb).tickFormat("").tickSize(3.5)).call(styleAx);
  p.ax.append("g").attr("transform",`translate(${X1},0)`)
    .call(d3.axisRight(p.y).tickValues(dbTicks).tickSize(7).tickPadding(5)).call(styleAx);
  p.ax.append("g").attr("transform",`translate(${X1},0)`)
    .call(d3.axisRight(p.y).tickValues(p.minorDb).tickFormat("").tickSize(3.5)).call(styleAx);
  p.ax.append("rect").attr("x",X0).attr("y",P.top).attr("width",X1-X0).attr("height",P.bottom-P.top)
    .attr("fill","none").attr("stroke","#000").attr("stroke-width",1.3);
  const cy = (P.top+P.bottom)/2;
  p.ax.append("text").attr("transform",`translate(22,${cy}) rotate(-90)`).attr("text-anchor","middle").attr("font-size",11).attr("fill","#111").text("dB SPL");
  p.ax.append("text").attr("transform",`translate(2384,${cy}) rotate(-90)`).attr("text-anchor","middle").attr("font-size",11).attr("fill","#111").text("dB SPL");
  p.ax.append("text").attr("x",(X0+X1)/2).attr("y",P.bottom+36).attr("text-anchor","middle").attr("font-size",11).attr("fill","#111").text("time");
}

// ---- top panel ----
const p1 = panel(P1, "average and peak noise level (1 min sampling)", "clip1");
const peakSets = [[peakZ,peakZ2,peakZExtra,"#1E90FF"],[peakC,peakC2,peakCExtra,"#FF00FF"],[peakA,peakA2,peakAExtra,"#2E8B57"]];
peakSets.forEach(([b1,b2,extra,col])=>{
  const pts = b1.map((v,i)=>[i*5,v]).concat(b2.map((v,i)=>[i*5+2.5,v])).concat(extra);
  p1.data.append("g").selectAll(null).data(pts).enter().append("circle")
    .attr("cx",d=>x(d[0])).attr("cy",d=>p1.y(d[1])).attr("r",1.8).attr("fill",col).attr("opacity",0.8);
});
function withSpikes(base, sv){
  const pts = [];
  base.forEach((v,i)=>{ const t=i*5; if(!spikeT.some(s=>Math.abs(s-t)<2)) pts.push([t,v]); });
  spikeT.forEach((s,k)=>{
    pts.push([s-1, base[Math.round((s-1)/5)]]);
    pts.push([s, sv[k]]);
    pts.push([s+1, base[Math.round((s+1)/5)]]);
  });
  return pts.sort((a,b)=>a[0]-b[0]);
}
const line1 = d3.line().x(d=>x(d[0])).y(d=>p1.y(d[1]));
[[avgZ,spikeZ,"#4682B4"],[avgC,spikeC,"#DA70D6"],[avgA,spikeA,"#9ACD32"]].forEach(([b,s,col])=>{
  p1.data.append("path").attr("d",line1(withSpikes(b,s))).attr("fill","none").attr("stroke",col).attr("stroke-width",1.6).attr("stroke-linejoin","round").attr("opacity",0.95);
});
axes(p1, P1, tickLabelsShort);

// top legend
(function(){
  const lg = svg.append("g");
  lg.append("rect").attr("x",2156).attr("y",543).attr("width",182).attr("height",40).attr("rx",3)
    .attr("fill",BG).attr("fill-opacity",0.85).attr("stroke","#d9c299").attr("stroke-width",1);
  const rows = [551,562.5,574];
  const dotItems = [["peak dB(Z)","#1E90FF"],["peak dB(C)","#FF00FF"],["peak dB(A)","#2E8B57"]];
  const lineItems = [["avg dB(Z)","#4682B4"],["avg dB(C)","#DA70D6"],["avg dB(A)","#9ACD32"]];
  dotItems.forEach(([t,c],i)=>{
    lg.append("circle").attr("cx",2169).attr("cy",rows[i]).attr("r",2.5).attr("fill",c);
    lg.append("text").attr("x",2186).attr("y",rows[i]+3.5).attr("font-size",10).attr("fill","#111").text(t);
  });
  lineItems.forEach(([t,c],i)=>{
    lg.append("line").attr("x1",2258).attr("x2",2280).attr("y1",rows[i]).attr("y2",rows[i]).attr("stroke",c).attr("stroke-width",3);
    lg.append("text").attr("x",2286).attr("y",rows[i]+3.5).attr("font-size",10).attr("fill","#111").text(t);
  });
})();

// ---- bottom panel ----
const p2 = panel(P2, "average noise level (5 min with 15s min/max dB envelope)", "clip2");
const env = envLo.map((v,i)=>[i*10, v, envHi[i]]);
p2.data.append("path")
  .attr("d", d3.area().x(d=>x(d[0])).y0(d=>p2.y(d[1])).y1(d=>p2.y(d[2]))(env))
  .attr("fill","#FA8072").attr("fill-opacity",0.3);
p2.data.append("g").selectAll(null).data(envSpikes).enter().append("line")
  .attr("x1",d=>x(d[0])).attr("x2",d=>x(d[0]))
  .attr("y1",d=>p2.y(envHi[Math.min(envHi.length-1,Math.round(d[0]/10))]))
  .attr("y2",d=>p2.y(d[1]))
  .attr("stroke","#FA8072").attr("stroke-opacity",0.35).attr("stroke-width",1.4);
const line2 = d3.line().x(d=>x(d[0])).y(d=>p2.y(d[1]));
[[avg5Z,"#DC143C"],[avg5C,"#FF8C00"],[avg5A,"#FFD700"]].forEach(([arr,col])=>{
  p2.data.append("path").attr("d",line2(arr.map((v,i)=>[i*5,v]))).attr("fill","none").attr("stroke",col).attr("stroke-width",1.8).attr("stroke-linejoin","round");
});
axes(p2, P2, tickLabelsLong);

// bottom legend
(function(){
  const lg = svg.append("g");
  lg.append("rect").attr("x",2277).attr("y",1103).attr("width",61).attr("height",41).attr("rx",3)
    .attr("fill",BG).attr("fill-opacity",0.85).attr("stroke","#d9c299").attr("stroke-width",1);
  const rows = [1112,1124,1135];
  [["dB(Z)","#DC143C"],["dB(C)","#FF8C00"],["dB(A)","#FFD700"]].forEach(([t,c],i)=>{
    lg.append("line").attr("x1",2279).attr("x2",2301).attr("y1",rows[i]).attr("y2",rows[i]).attr("stroke",c).attr("stroke-width",3);
    lg.append("text").attr("x",2307).attr("y",rows[i]+3.5).attr("font-size",10).attr("fill","#111").text(t);
  });
})();

// main title
svg.append("text").attr("x",24).attr("y",24).attr("font-size",14).attr("font-weight","bold").attr("fill","#000").text("data from [421/mic0]");
svg.append("text").attr("x",24).attr("y",39).attr("font-size",14).attr("font-weight","bold").attr("fill","#000").text("starting point is [20240312_000010]");
</script>
</body></html>
